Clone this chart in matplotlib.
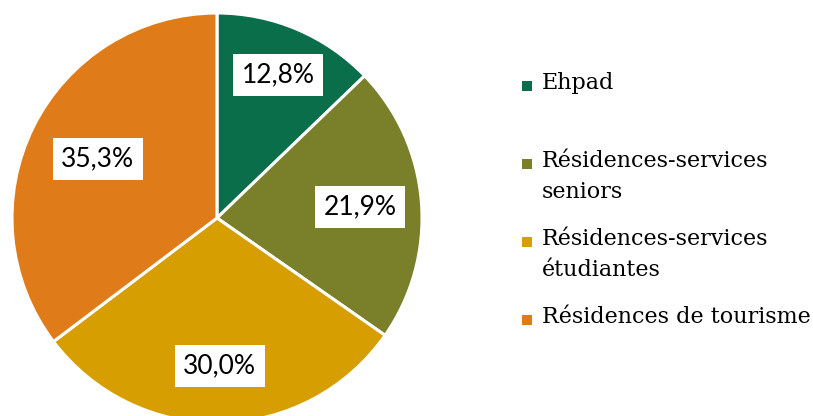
import matplotlib.pyplot as plt
from matplotlib.patches import Rectangle
import numpy as np

# data
categories = ["Ehpad", "Résidences-services\nseniors", "Résidences-services\nétudiantes",
              "Résidences de tourisme"]
values = [12.8, 21.9, 30.0, 35.3]
colors = ["#0B6E4B", "#7A7F29", "#D69E00", "#E07B1A"]
label_radius = [0.76, 0.70, 0.72, 0.65]

fig = plt.figure(figsize=(8.13, 4.16), dpi=100)
W, H = 813, 416
cx, cy, r = 217, 416 - 218, 205
ax = fig.add_axes([(cx - r) / W, (cy - r) / H, 2 * r / W, 2 * r / H])

wedges, _ = ax.pie(values, colors=colors, startangle=90, counterclock=False,
                   radius=1, wedgeprops=dict(edgecolor="white", linewidth=2.2))
ax.set_xlim(-1, 1)
ax.set_ylim(-1, 1)
ax.set_aspect("equal")
ax.axis("off")

# percentage labels
for w, v, rr in zip(wedges, values, label_radius):
    ang = np.deg2rad((w.theta1 + w.theta2) / 2)
    ax.text(rr * np.cos(ang), rr * np.sin(ang), f"{v:.1f}%".replace(".", ","),
            ha="center", va="center", fontsize=19, family="Lato",
            bbox=dict(facecolor="white", edgecolor="none", pad=6))

# legend drawn by hand
y0, step = 416 - 86, 78
for i, (lab, c) in enumerate(zip(categories, colors)):
    y = y0 - i * step
    fig.patches.append(Rectangle(((522) / W, (y - 5) / H), 10 / W, 10 / H,
                                 facecolor=c, edgecolor="none",
                                 transform=fig.transFigure, figure=fig))
    fig.text(542 / W, (y + 14) / H, lab, ha="left", va="top", fontsize=16,
             family="DejaVu Serif", linespacing=1.5)

fig.savefig("out.png", dpi=100)
